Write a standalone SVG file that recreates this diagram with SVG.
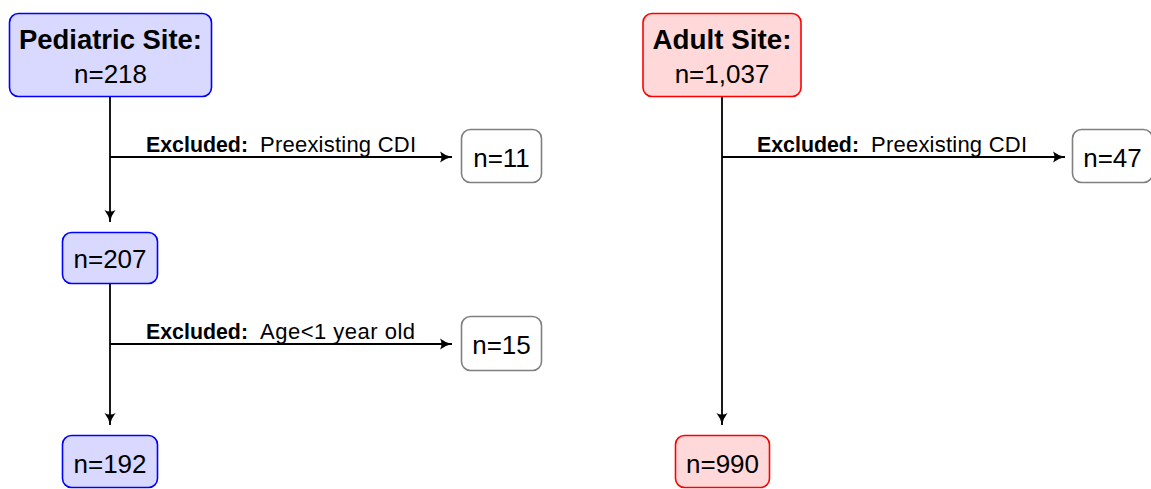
<svg xmlns="http://www.w3.org/2000/svg" width="1151" height="489" viewBox="0 0 1151 489">
<defs>
<marker id="arr" markerUnits="userSpaceOnUse" markerWidth="14" markerHeight="12" refX="12" refY="6" orient="auto">
<path d="M0,0.5 Q5,4.5 12,6 Q5,7.5 0,11.5 Q3,6 0,0.5 Z" fill="#000"/>
</marker>
<style>
.blue{fill:#d9d9ff;stroke:#0000ff;stroke-width:1.6}
.red{fill:#ffd9d9;stroke:#ff0000;stroke-width:1.6}
.gray{fill:#ffffff;stroke:#808080;stroke-width:1.6}
.t{font-family:"Liberation Sans",Arial,sans-serif;font-size:26px;fill:#000;text-anchor:middle}
.tb{font-family:"Liberation Sans",Arial,sans-serif;font-size:27px;font-weight:bold;fill:#000;text-anchor:middle}
.lab{font-family:"Liberation Sans",Arial,sans-serif;font-size:22px;fill:#000}
.lb{font-weight:bold}
.ln{fill:none;stroke:#000;stroke-width:1.8}
</style>
</defs>
<g id="connectors">
<path class="ln" d="M110,97 V222" marker-end="url(#arr)"/>
<path class="ln" d="M110,157 H452" marker-end="url(#arr)"/>
<path class="ln" d="M110,283 V425" marker-end="url(#arr)"/>
<path class="ln" d="M110,344 H452" marker-end="url(#arr)"/>
<path class="ln" d="M722,97 V425" marker-end="url(#arr)"/>
<path class="ln" d="M722,157 H1065" marker-end="url(#arr)"/>
<text class="lab" x="146" y="152"><tspan class="lb" textLength="102" lengthAdjust="spacingAndGlyphs">Excluded:</tspan><tspan x="260" textLength="156">Preexisting CDI</tspan></text>
<text class="lab" x="146" y="339"><tspan class="lb" textLength="102" lengthAdjust="spacingAndGlyphs">Excluded:</tspan><tspan x="260" textLength="155">Age&lt;1 year old</tspan></text>
<text class="lab" x="757" y="152"><tspan class="lb" textLength="102" lengthAdjust="spacingAndGlyphs">Excluded:</tspan><tspan x="871" textLength="156">Preexisting CDI</tspan></text>
</g>
<g id="ped">
<rect class="blue" x="9.5" y="13.5" width="202" height="83" rx="9"/>
<text class="tb" x="110.5" y="49" textLength="183" lengthAdjust="spacingAndGlyphs">Pediatric Site:</text>
<text class="t" x="110.5" y="83">n=218</text>
</g>
<g id="ped_ex1">
<rect class="gray" x="461.5" y="129.5" width="80" height="53" rx="9"/>
<text class="t" x="501.5" y="167">n=11</text>
</g>
<g id="ped207">
<rect class="blue" x="62.5" y="232.5" width="95" height="51" rx="9"/>
<text class="t" x="110" y="268">n=207</text>
</g>
<g id="ped_ex2">
<rect class="gray" x="461.5" y="316.5" width="80" height="54" rx="9"/>
<text class="t" x="501.5" y="354">n=15</text>
</g>
<g id="ped192">
<rect class="blue" x="62.5" y="435.5" width="95" height="52" rx="9"/>
<text class="t" x="110" y="473">n=192</text>
</g>
<g id="adult">
<rect class="red" x="643" y="13.5" width="158" height="83" rx="9"/>
<text class="tb" x="722" y="49" textLength="139" lengthAdjust="spacingAndGlyphs">Adult Site:</text>
<text class="t" x="722" y="83">n=1,037</text>
</g>
<g id="adult_ex">
<rect class="gray" x="1072.5" y="129.5" width="80" height="53" rx="9"/>
<text class="t" x="1112.5" y="167">n=47</text>
</g>
<g id="adult990">
<rect class="red" x="675.5" y="435.5" width="94" height="52" rx="9"/>
<text class="t" x="722.5" y="473">n=990</text>
</g>
</svg>
